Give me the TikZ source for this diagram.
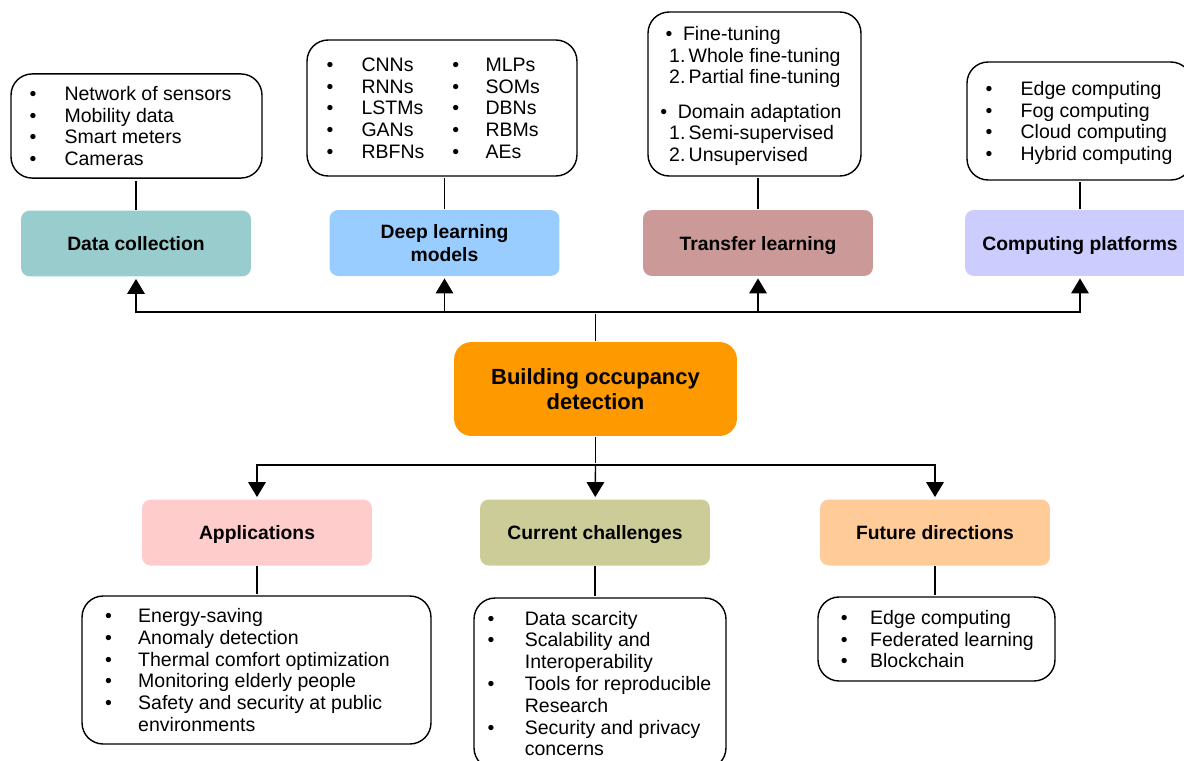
\documentclass[tikz,border=0pt]{standalone}
\usepackage{fontspec}
\setmainfont{Liberation Sans}
\usetikzlibrary{arrows.meta}

\definecolor{datacol}{HTML}{99CCCC}
\definecolor{deepcol}{HTML}{99CCFF}
\definecolor{transcol}{HTML}{CC9999}
\definecolor{compcol}{HTML}{CCCCFF}
\definecolor{rootcol}{HTML}{FF9900}
\definecolor{appcol}{HTML}{FFCCCC}
\definecolor{chalcol}{HTML}{CCCC99}
\definecolor{futcol}{HTML}{FFCC99}

\begin{document}
\begin{tikzpicture}[x=0.02cm, y=-0.02cm, line width=0.8pt, shorten >=1pt, >={Triangle[length=8.5pt,width=10pt]},
head node/.style={rounded corners=5pt,minimum width=4.6cm,minimum height=1.32cm,align=center,font=\bfseries\fontsize{11}{13}\selectfont},
root node/.style={rounded corners=10pt,fill=rootcol,minimum width=5.66cm,minimum height=1.88cm,align=center,font=\bfseries\fontsize{12.5}{14.5}\selectfont},
list node/.style={draw,rounded corners=12pt,align=left,font=\fontsize{11.1}{12.4}\selectfont}]
\useasboundingbox (0,0) rectangle (1184,761);
\begin{scope}[every node/.style={head node,text height=8pt,text depth=0pt}]
\node [fill=datacol](data) at (136,243.5) {Data collection};
\node [fill=transcol](trans) at (758,243) {Transfer learning};
\node [fill=compcol](comp) at (1080,243) {Computing platforms};
\node [fill=appcol](app) at (257,532.5) {Applications};
\node [fill=chalcol](chal) at (595,532.5) {Current challenges};
\node [fill=futcol](fut) at (935,532.5) {Future directions};
\end{scope}
\node [head node,fill=deepcol](deep) at (444.5,243) {Deep learning\\models};
\node [root node](root) at (595.5,389) {Building occupancy\\detection};

% lists
\node [list node,minimum width=5.02cm,minimum height=2cm](datalist) at (136.5,126) {%
\begin{tabular}{@{}l@{\hspace{16pt}}l@{\hspace{6.8pt}}}\noalign{\vspace{3pt}}
\textbullet & Network of sensors\\ \textbullet & Mobility data\\
\textbullet & Smart meters\\ \textbullet & Cameras
\end{tabular}};
\node [list node,minimum width=5.4cm,minimum height=2.72cm](deeplist) at (442,108) {%
\begin{tabular}{@{}l@{\hspace{16pt}}l@{\hspace{16pt}}l@{\hspace{15pt}}l@{\hspace{10pt}}}\noalign{\vspace{3pt}}
\textbullet & CNNs & \textbullet & MLPs\\ \textbullet & RNNs & \textbullet & SOMs\\
\textbullet & LSTMs & \textbullet & DBNs\\ \textbullet & GANs & \textbullet & RBMs\\
\textbullet & RBFNs & \textbullet & AEs
\end{tabular}};
\node [list node,minimum width=4.26cm,minimum height=3.28cm](translist) at (754.5,94) {%
\begin{tabular}{@{}l@{\hspace{4pt}}}\noalign{\vspace{3pt}}
\hspace{3pt}\textbullet\hspace{6pt}Fine-tuning\\
\hspace{5pt}1.\,Whole fine-tuning\\
\hspace{5pt}2.\,Partial fine-tuning\\[7pt]
\textbullet\hspace{6pt}Domain adaptation\\
\hspace{5pt}1.\,Semi-supervised\\
\hspace{5pt}2.\,Unsupervised
\end{tabular}};
\node [list node,minimum width=4.5cm,minimum height=2.36cm](complist) at (1079.5,121) {%
\begin{tabular}{@{}l@{\hspace{16pt}}l@{\hspace{0.5pt}}}\noalign{\vspace{3pt}}
\textbullet & Edge computing\\ \textbullet & Fog computing\\
\textbullet & Cloud computing\\ \textbullet & Hybrid computing
\end{tabular}};
\node [list node,minimum width=6.98cm,minimum height=2.96cm](applist) at (256.5,670) {%
\begin{tabular}{@{}l@{\hspace{15pt}}l@{\hspace{10.4pt}}}\noalign{\vspace{3pt}}
\textbullet & Energy-saving\\ \textbullet & Anomaly detection\\
\textbullet & Thermal comfort optimization\\ \textbullet & Monitoring elderly people\\
\textbullet & Safety and security at public\\ & environments
\end{tabular}};
\node [list node,minimum width=5.04cm,minimum height=3.42cm](challist) at (600,683.5) {%
\begin{tabular}{@{}l@{\hspace{17.3pt}}l@{\hspace{0.6pt}}}\noalign{\vspace{3pt}}
\textbullet & Data scarcity\\ \textbullet & Scalability and\\ & Interoperability\\
\textbullet & Tools for reproducible\\ & Research\\
\textbullet & Security and privacy\\ & concerns
\end{tabular}};
\node [list node,minimum width=4.74cm,minimum height=1.68cm](futlist) at (936.5,639) {%
\begin{tabular}{@{}l@{\hspace{12.7pt}}l@{\hspace{-1pt}}}\noalign{\vspace{3pt}}
\textbullet & Edge computing\\ \textbullet & Federated learning\\
\textbullet & Blockchain
\end{tabular}};

\path
	(data) edge (data |- datalist.south)
	(deep) edge (deep |- deeplist.south)
	(trans) edge (trans |- translist.south)
	(comp) edge (comp |- complist.south)
	(app) edge (app |- applist.north)
	(chal) edge (chal |- challist.north)
	(fut) edge (fut |- futlist.north)
	;
% bus lines
\draw (root) -- (root |- 0,312) coordinate (topbus);
\draw [->] (topbus) -| (data);
\draw [->] (topbus) -| (deep);
\draw [->] (topbus) -| (trans);
\draw [->] (topbus) -| (comp);
\draw (root) -- (root |- 0,465) coordinate (botbus);
\draw [->] (botbus) -| (app);
\draw [->] (botbus) -- (chal);
\draw [->] (botbus) -| (fut);
\end{tikzpicture}
\end{document}
